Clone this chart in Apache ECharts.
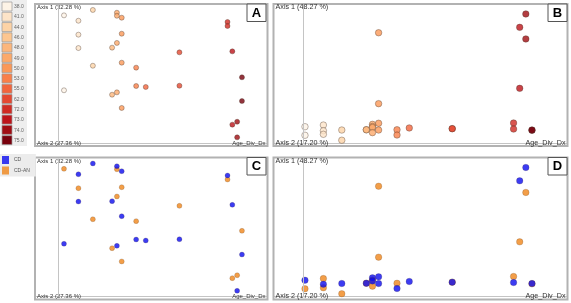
<!DOCTYPE html>
<html>
<head>
<meta charset="utf-8">
<script src="https://cdn.jsdelivr.net/npm/echarts@6/dist/echarts.min.js"></script>
<style>
  html, body { margin: 0; padding: 0; background: #fff; }
  #chart { width: 571px; height: 303px; }
</style>
</head>
<body>
<div id="chart"></div>
<script>
// age legend (Age_Div_Dx)
const ageTicks = [38, 41, 44, 46, 48, 49, 50, 53, 55, 62, 72, 73, 74, 75];
const ageColors = ['#fdf3e6', '#fde4c8', '#fdd3a6', '#fdc690', '#fcb67c', '#fca96a', '#fb9858',
  '#f97f49', '#f2653d', '#e44831', '#d02b23', '#bd141a', '#a00c12', '#78000c'];

// PCoA 1 (panels A / C) - Axis 1 32.28 %, Axis 2 27.36 %
const ageA = [38, 44, 41, 49, 49, 50, 41, 50, 49, 48, 41, 44, 50, 53, 62,
  72, 72, 73, 75, 38, 48, 49, 53, 55, 62, 50, 75, 74, 73, 74];
const axis1A = [0.925, 0.964, 0.886, 0.944, 0.922, 0.908, 0.785, 0.792, 0.725, 0.691, 0.688, 0.560, 0.582, 0.546, 0.657,
  0.877, 0.848, 0.664, 0.476, 0.382, 0.350, 0.367, 0.413, 0.406, 0.415, 0.254, 0.304, 0.154, 0.133, 0.041];
const groupA = ['CD-AN', 'CD', 'CD', 'CD', 'CD-AN', 'CD', 'CD-AN', 'CD-AN', 'CD-AN', 'CD', 'CD', 'CD-AN', 'CD', 'CD-AN', 'CD-AN',
  'CD', 'CD-AN', 'CD', 'CD-AN', 'CD', 'CD-AN', 'CD', 'CD', 'CD', 'CD', 'CD-AN', 'CD', 'CD-AN', 'CD-AN', 'CD'];

// PCoA 2 (panels B / D) - Axis 1 48.27 %, Axis 2 17.20 %
const ageB = [74, 74, 73, 73, 50, 50, 50, 50, 72, 72, 75, 75, 62, 62, 55,
  53, 53, 49, 49, 49, 49, 48, 48, 44, 44, 41, 41, 41, 38, 38];
const axis1B = [0.935, 0.754, 0.838, 0.396, 0.799, 0.285, 0.143, 0.094, 0.145, 0.101, 0.092, 0.094, 0.104, 0.104, 0.109,
  0.096, 0.058, 0.135, 0.120, 0.112, 0.075, 0.096, 0.096, 0.094, 0.020, 0.130, 0.089, 0.063, 0.118, 0.056];
const groupB = ['CD', 'CD-AN', 'CD', 'CD-AN', 'CD-AN', 'CD-AN', 'CD', 'CD', 'CD-AN', 'CD', 'CD-AN', 'CD', 'CD-AN', 'CD', 'CD',
  'CD-AN', 'CD', 'CD', 'CD-AN', 'CD', 'CD-AN', 'CD-AN', 'CD', 'CD', 'CD-AN', 'CD-AN', 'CD', 'CD-AN', 'CD', 'CD-AN'];

const groups = ['CD', 'CD-AN'];
const groupColors = { 'CD': '#0b0bef', 'CD-AN': '#f0861a' };

const FONT = 'Liberation Sans, Arial, sans-serif';
const OFF = 153.5; // vertical offset of the bottom row of panels

const chart = echarts.init(document.getElementById('chart'));

const pts = (ages, ys, grp, g) => ages.map((a, i) => [a, ys[i]]).filter((d, i) => !g || grp[i] === g);

const vline = (x) => ({
  silent: true, symbol: ['none', 'none'], animation: false,
  label: { show: false },
  lineStyle: { color: '#c4c4c4', type: 'solid', width: 1 },
  data: [{ xAxis: x }]
});

const xAx = (gi, min, max) => ({
  gridIndex: gi, type: 'value', min: min, max: max,
  axisLine: { show: true, lineStyle: { color: '#c4c4c4', width: 1 } },
  axisTick: { show: false }, axisLabel: { show: false }, splitLine: { show: false }
});
const yAx = (gi) => ({
  gridIndex: gi, type: 'value', min: 0, max: 1,
  axisLine: { show: false }, axisTick: { show: false }, axisLabel: { show: false }, splitLine: { show: false }
});

const ageBorder = { borderColor: 'rgba(70,50,40,0.75)', borderWidth: 0.6 };
const grpStyle = (g) => ({ color: groupColors[g], borderColor: 'rgba(60,40,20,0.45)', borderWidth: 0.5 });

const series = [
  { type: 'scatter', xAxisIndex: 0, yAxisIndex: 0, symbolSize: 5, itemStyle: ageBorder,
    data: pts(ageA, axis1A), markLine: vline(36.8) },
  { type: 'scatter', xAxisIndex: 1, yAxisIndex: 1, symbolSize: 6.5, itemStyle: ageBorder,
    data: pts(ageB, axis1B), markLine: vline(37.7) }
];
// orange drawn first, blue on top
['CD-AN', 'CD'].forEach((g, k) => {
  series.push({ name: g, type: 'scatter', xAxisIndex: 2, yAxisIndex: 2, symbolSize: 5,
    itemStyle: grpStyle(g), data: pts(ageA, axis1A, groupA, g), markLine: k === 0 ? vline(36.8) : undefined });
});
['CD-AN', 'CD'].forEach((g, k) => {
  series.push({ name: g, type: 'scatter', xAxisIndex: 3, yAxisIndex: 3, symbolSize: 6.5,
    itemStyle: grpStyle(g), data: pts(ageB, axis1B, groupB, g), markLine: k === 0 ? vline(37.7) : undefined });
});

// frames, panel letters, axis titles, age legend
const graphic = [];
const panels = [
  { x: 35, y: 4, w: 232.5, h: 142, letter: 'A', t1: 'Axis 1 (32.28 %)', t2: 'Axis 2 (27.36 %)', fs: 6, bx: 247, by: 4 },
  { x: 273.5, y: 4, w: 294, h: 142, letter: 'B', t1: 'Axis 1 (48.27 %)', t2: 'Axis 2 (17.20 %)', fs: 7.2, bx: 548, by: 4 },
  { x: 35, y: 4 + OFF, w: 232.5, h: 142, letter: 'C', t1: 'Axis 1 (32.28 %)', t2: 'Axis 2 (27.36 %)', fs: 6, bx: 247, by: 4 + OFF },
  { x: 273.5, y: 4 + OFF, w: 294, h: 142, letter: 'D', t1: 'Axis 1 (48.27 %)', t2: 'Axis 2 (17.20 %)', fs: 7.2, bx: 548, by: 4 + OFF }
];
panels.forEach(p => {
  graphic.push({ type: 'rect', shape: { x: p.x, y: p.y, width: p.w, height: p.h },
    style: { fill: 'none', stroke: '#b2b2b2', lineWidth: 2 }, z: 1 });
  graphic.push({ type: 'rect', shape: { x: p.bx, y: p.by, width: 19, height: 17.5 },
    style: { fill: '#fff', stroke: '#555', lineWidth: 1 }, z: 10 });
  graphic.push({ type: 'text', z: 11, style: { text: p.letter, x: p.bx + 9.5, y: p.by + 9, font: 'bold 13px ' + FONT,
    fill: '#000', align: 'center', verticalAlign: 'middle', textAlign: 'center', textVerticalAlign: 'middle' } });
  const tf = p.fs + 'px ' + FONT;
  graphic.push({ type: 'text', z: 5, style: { text: p.t1, x: p.x + 2, y: p.y + 3.5, font: tf, fill: '#333',
    align: 'left', verticalAlign: 'middle', textAlign: 'left', textVerticalAlign: 'middle' } });
  graphic.push({ type: 'text', z: 5, style: { text: p.t2, x: p.x + 2, y: p.y + 139, font: tf, fill: '#333',
    align: 'left', verticalAlign: 'middle', textAlign: 'left', textVerticalAlign: 'middle' } });
  graphic.push({ type: 'text', z: 5, style: { text: 'Age_Div_Dx', x: p.x + p.w - 2, y: p.y + 139, font: tf, fill: '#333',
    align: 'right', verticalAlign: 'middle', textAlign: 'right', textVerticalAlign: 'middle' } });
});

graphic.push({ type: 'rect', shape: { x: 0, y: 0, width: 27, height: 146 }, style: { fill: '#eeeeee' }, z: 0 });
ageTicks.forEach((v, i) => {
  const y = 2 + i * 10.28;
  graphic.push({ type: 'rect', shape: { x: 2, y: y, width: 10, height: 9 },
    style: { fill: ageColors[i], stroke: '#9a9a9a', lineWidth: 0.7 }, z: 2 });
  graphic.push({ type: 'text', z: 2, style: { text: v.toFixed(1), x: 14, y: y + 4.8, font: '5px ' + FONT, fill: '#666',
    align: 'left', verticalAlign: 'middle', textAlign: 'left', textVerticalAlign: 'middle' } });
});

chart.setOption({
  animation: false,
  backgroundColor: '#fff',
  grid: [
    { left: 36, top: 5, width: 231, height: 138 },
    { left: 274, top: 5, width: 293, height: 138 },
    { left: 36, top: 5 + OFF, width: 231, height: 138 },
    { left: 274, top: 5 + OFF, width: 293, height: 138 }
  ],
  xAxis: [xAx(0, 32.18, 80.21), xAx(1, 32.95, 80.71), xAx(2, 32.18, 80.21), xAx(3, 32.95, 80.71)],
  yAxis: [yAx(0), yAx(1), yAx(2), yAx(3)],
  visualMap: {
    type: 'piecewise', show: false, seriesIndex: [0, 1], dimension: 0,
    pieces: ageTicks.map((v, i) => ({ value: v, color: ageColors[i] }))
  },
  legend: {
    data: groups, orient: 'vertical', left: 0, top: 154, icon: 'rect',
    itemWidth: 7, itemHeight: 8, itemGap: 2.5,
    itemStyle: { borderWidth: 0 },
    backgroundColor: '#ececec', padding: [2, 6, 2, 2],
    textStyle: { fontSize: 5, color: '#555', fontFamily: FONT }
  },
  graphic: graphic,
  series: series
});
</script>
</body>
</html>
